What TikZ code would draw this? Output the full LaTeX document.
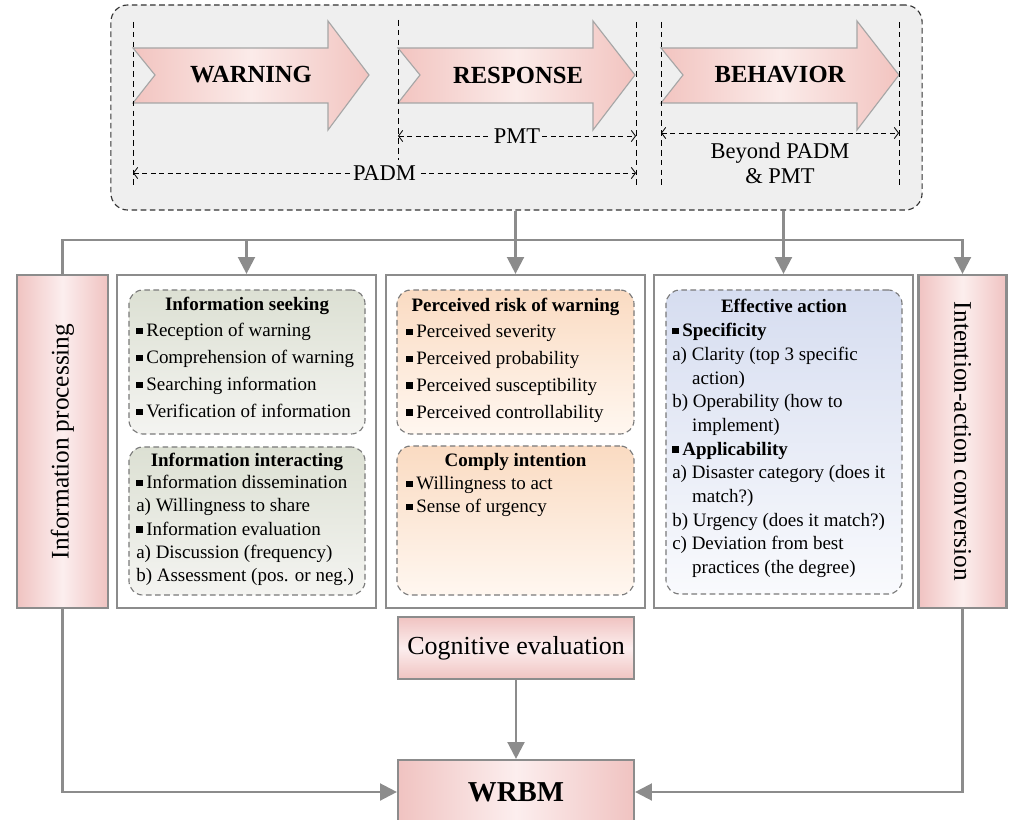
\documentclass[tikz,border=0pt]{standalone}
\usepackage{fontspec}
\setmainfont{Liberation Serif}
\usetikzlibrary{arrows.meta,positioning,calc}
\definecolor{FrameGray}{HTML}{EFEFEF}
\definecolor{LineGray}{HTML}{8C8C8C}
\definecolor{DashGray}{HTML}{7A7A7A}
\definecolor{ArrowPink}{HTML}{F2C4C0}
\definecolor{ArrowLight}{HTML}{FBEBE9}
\definecolor{BoxPink}{HTML}{F0C3C1}
\definecolor{BoxLight}{HTML}{FCEEEE}
\definecolor{SeekTop}{HTML}{DCE0D3}
\definecolor{SeekBot}{HTML}{F4F4F1}
\definecolor{RiskTop}{HTML}{FADBC2}
\definecolor{RiskBot}{HTML}{FFF7F0}
\definecolor{ActTop}{HTML}{D6DDF0}
\definecolor{ActBot}{HTML}{F9FAFD}
\newcommand{\sqbul}{\rule[0.28ex]{0.33em}{0.33em}\hspace{0.2em}}

\begin{document}
\begin{tikzpicture}[x=0.025cm,y=-0.025cm,
  framebox/.style={draw=black!80,dash pattern=on 4pt off 2.5pt,line width=0.8pt,
    rounded corners=12pt,fill=FrameGray,inner sep=0pt},
  chev/.style={draw=gray!70,line width=0.8pt,left color=ArrowPink,right color=ArrowPink,
    middle color=ArrowLight},
  chevtext/.style={font=\fontsize{17.5}{19}\selectfont\bfseries,inner sep=0pt},
  guide/.style={dash pattern=on 4pt off 3pt,line width=0.6pt},
  dimline/.style={dash pattern=on 3.5pt off 2.5pt,line width=0.6pt,
    {Straight Barb[length=3pt,width=8pt]}-{Straight Barb[length=3pt,width=8pt]}},
  dimlabel/.style={fill=FrameGray,inner sep=1pt,font=\fontsize{16}{18}\selectfont},
  colbox/.style={draw=LineGray,line width=1.5pt,fill=white,inner sep=0pt},
  pinkside/.style={draw=LineGray,line width=1.5pt,inner sep=0pt,
    left color=BoxPink,right color=BoxPink,middle color=BoxLight},
  pinkbox/.style={draw=LineGray,line width=1.5pt,inner sep=0pt,
    top color=BoxPink,bottom color=BoxPink,middle color=BoxLight},
  listbox/.style={draw=DashGray,dash pattern=on 4pt off 2.5pt,line width=0.8pt,
    rounded corners=10pt,inner sep=0pt},
  titletext/.style={font=\fontsize{13.5}{16}\selectfont\bfseries,inner sep=0pt},
  listloose/.style={font=\fontsize{13.5}{19.1}\selectfont,align=left,anchor=north west,inner sep=0pt},
  listtight/.style={font=\fontsize{13.5}{16.5}\selectfont,align=left,anchor=north west,inner sep=0pt},
  sidetext/.style={font=\fontsize{18}{20}\selectfont,inner sep=0pt},
  conn/.style={draw=LineGray,line width=1.7pt,-{Triangle[length=12pt,width=12pt]}}]
  \useasboundingbox (0,0) rectangle (1012,820);

  % Stage frame
  \node[framebox,minimum width=20.275cm,minimum height=5.125cm] (frame) at (516.5,107.5) {};
  \draw[chev] (133,48) -- (328,48) -- (328,21) -- (369,75) -- (328,130) -- (328,103) -- (133,103) -- (155,75) -- cycle;
  \draw[chev] (398,48) -- (593,48) -- (593,21) -- (635,75) -- (593,130) -- (593,103) -- (398,103) -- (420,75) -- cycle;
  \draw[chev] (661,48) -- (857,48) -- (857,21) -- (899,75) -- (857,130) -- (857,103) -- (661,103) -- (683,75) -- cycle;
  \node[chevtext] (warn) at (251,75) {WARNING};
  \node[chevtext] (resp) at (518,75) {RESPONSE};
  \node[chevtext] (behav) at (780,75) {BEHAVIOR};

  \draw[guide] (133,22) -- (133,187);
  \draw[guide] (398,20) -- (398,160);
  \draw[guide] (636,22) -- (636,187);
  \draw[guide] (661,22) -- (661,187);
  \draw[guide] (899,22) -- (899,187);

  \coordinate (pmtL) at (398,136);
  \coordinate (pmtR) at (636,136);
  \coordinate (padmL) at (133,173);
  \coordinate (padmR) at (636,173);
  \coordinate (beyL) at (661,133);
  \coordinate (beyR) at (899,133);
  \draw[dimline] (pmtL) -- node[dimlabel] (pmt) {PMT} (pmtR);
  \draw[dimline] (padmL) -- node[dimlabel] (padm) {PADM} (padmR);
  \draw[dimline] (beyL) -- (beyR);
  \node[align=center,inner sep=0pt,font=\fontsize{16}{18}\selectfont] (beyond) at (780,163) {Beyond PADM\\\& PMT};

  % Columns
  \node[pinkside,minimum width=2.275cm,minimum height=8.325cm] (infop) at (62.5,441.5) {};
  \node[colbox,minimum width=6.475cm,minimum height=8.325cm] (col1) at (246.5,441.5) {};
  \node[colbox,minimum width=6.475cm,minimum height=8.325cm] (col2) at (515.5,441.5) {};
  \node[colbox,minimum width=6.475cm,minimum height=8.325cm] (col3) at (783.5,441.5) {};
  \node[pinkside,minimum width=2.2cm,minimum height=8.325cm] (intent) at (962.5,441.5) {};
  \node[sidetext,rotate=90] (infoptxt) at (infop.center) {Information processing};
  \node[sidetext,rotate=-90] (intenttxt) at (intent.center) {Intention-action conversion};

  \node[listbox,top color=SeekTop,bottom color=SeekBot,minimum width=5.9cm,minimum height=3.6cm] (seek) at (247,362) {};
  \node[listbox,top color=SeekTop,bottom color=SeekBot,minimum width=5.9cm,minimum height=3.7cm] (inter) at (247,521) {};
  \node[listbox,top color=RiskTop,bottom color=RiskBot,minimum width=5.925cm,minimum height=3.6cm] (risk) at (515.5,362) {};
  \node[listbox,top color=RiskTop,bottom color=RiskBot,minimum width=5.925cm,minimum height=3.725cm] (comply) at (515.5,520.5) {};
  \node[listbox,top color=ActTop,bottom color=ActBot,minimum width=5.9cm,minimum height=7.6cm] (effect) at (784,442) {};

  \node[titletext] (seektitle) at (247,306) {Information seeking};
  \node[listloose] (seeklist) at (136,323) {\sqbul Reception of warning\\\sqbul Comprehension of warning\\\sqbul Searching information\\\sqbul Verification of information};
  \node[titletext] (intertitle) at (247,462) {Information interacting};
  \node[listtight] (interlist) at (136,475) {\sqbul Information dissemination\\a) Willingness to share\\\sqbul Information evaluation\\a) Discussion (frequency)\\b) Assessment (pos. or neg.)};
  \node[titletext] (risktitle) at (515.5,307) {Perceived risk of warning};
  \node[listloose] (risklist) at (406,324) {\sqbul Perceived severity\\\sqbul Perceived probability\\\sqbul Perceived susceptibility\\\sqbul Perceived controllability};
  \node[titletext] (complytitle) at (515.5,462) {Comply intention};
  \node[listtight] (complylist) at (406,476) {\sqbul Willingness to act\\\sqbul Sense of urgency};
  \node[titletext] (effecttitle) at (784,306) {Effective action};
  \node[listtight,font=\fontsize{13.5}{16.85}\selectfont] (effectlist) at (672,323) {\sqbul\textbf{Specificity}\\a) Clarity (top 3 specific\\\hspace*{1.05em}action)\\b) Operability (how to\\\hspace*{1.05em}implement)\\\sqbul\textbf{Applicability}\\a) Disaster category (does it\\\hspace*{1.05em}match?)\\b) Urgency (does it match?)\\c) Deviation from best\\\hspace*{1.05em}practices (the degree)};

  \node[pinkbox,minimum width=5.9cm,minimum height=1.55cm,font=\fontsize{18.5}{20}\selectfont] (cog) at (516,648) {Cognitive evaluation};
  \node[pinkside,minimum width=5.9cm,minimum height=1.6cm,font=\fontsize{20.5}{22}\selectfont\bfseries] (wrbm) at (516,792) {WRBM};

  % Connectors
  \coordinate (bus) at (515.5,240);
  \draw[conn] (frame.south -| col2.north) -- (col2.north);
  \draw[conn] (frame.south -| col3.north) -- (col3.north);
  \draw[conn] (infop.north) |- (bus) -| (intent.north);
  \draw[conn] (col1.north |- bus) -- (col1.north);
  \draw[conn] (cog.south) -- (wrbm.north);
  \draw[conn] (infop.south) |- (wrbm.west);
  \draw[conn] (intent.south) |- (wrbm.east);
\end{tikzpicture}
\end{document}
